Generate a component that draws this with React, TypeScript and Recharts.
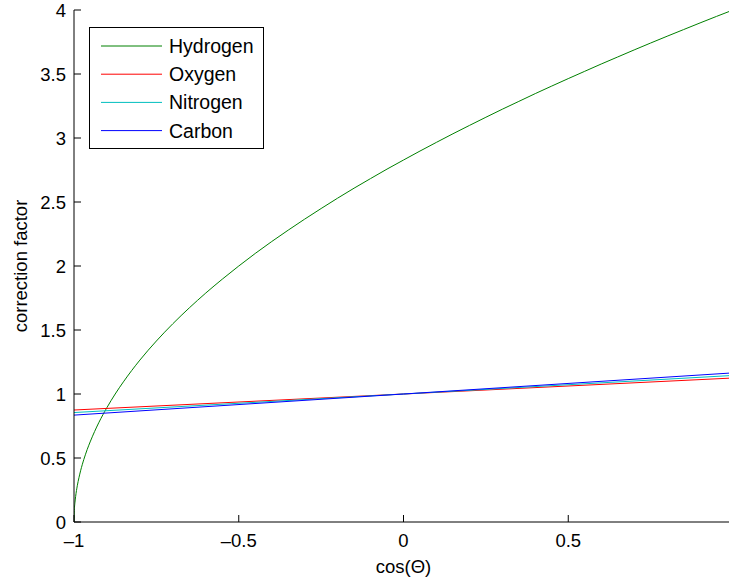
import React from 'react';
import { LineChart, Line, XAxis, YAxis, Legend } from 'recharts';

// hydrogen curve, sampled along cos(theta)
const hydrogenX = [
  -1, -0.999, -0.997, -0.995, -0.99, -0.985, -0.98, -0.97, -0.96, -0.95, -0.925, -0.9, -0.875, -0.85, -0.825, -0.8,
  -0.75, -0.7, -0.65, -0.6, -0.55, -0.5, -0.45, -0.4, -0.35, -0.3, -0.25, -0.2, -0.15, -0.1, -0.05, 0,
  0.05, 0.1, 0.15, 0.2, 0.25, 0.3, 0.35, 0.4, 0.45, 0.5, 0.55, 0.6, 0.65, 0.7, 0.75, 0.8, 0.85, 0.9, 0.95, 1,
];
const hydrogenY = [
  0, 0.089, 0.155, 0.2, 0.283, 0.346, 0.4, 0.49, 0.566, 0.632, 0.775, 0.894, 1.0, 1.095, 1.183, 1.265,
  1.414, 1.549, 1.673, 1.789, 1.897, 2.0, 2.098, 2.191, 2.28, 2.366, 2.449, 2.53, 2.608, 2.683, 2.757, 2.828,
  2.898, 2.966, 3.033, 3.098, 3.162, 3.225, 3.286, 3.347, 3.406, 3.464, 3.521, 3.578, 3.633, 3.688, 3.742, 3.795, 3.847, 3.899, 3.95, 4.0,
];

// the other three are straight lines
const lineX = [-1, 0, 1];
const oxygenY = [0.875, 1, 1.125];
const nitrogenY = [0.855, 1, 1.145];
const carbonY = [0.835, 1, 1.165];

const seriesNames = ['Hydrogen', 'Oxygen', 'Nitrogen', 'Carbon'];
const seriesColors = ['#008000', '#ff0000', '#00bfbf', '#0000ff'];

const xTicks = [-1, -0.5, 0, 0.5];
const yTicks = [0, 0.5, 1, 1.5, 2, 2.5, 3, 3.5, 4];

const toPoints = (xs: number[], ys: number[]) => xs.map((x, i) => ({ x, y: ys[i] }));

const seriesData = [
  toPoints(hydrogenX, hydrogenY),
  toPoints(lineX, oxygenY),
  toPoints(lineX, nitrogenY),
  toPoints(lineX, carbonY),
];

const FONT = '"Liberation Sans", Arial, Helvetica, sans-serif';
const TICK_FONT = 18.5;
const TICK_LEN = 7;

const fmt = (v: number) => String(v).replace('-', '\u2013');

const BottomTick = (props: any) => {
  const { x, y, payload } = props;
  return (
    <g>
      <line x1={x} y1={y} x2={x} y2={y - TICK_LEN} stroke="#000" />
      <text x={x} y={y + 25} textAnchor="middle" fontSize={TICK_FONT} fontFamily={FONT} fill="#000">
        {fmt(payload.value)}
      </text>
    </g>
  );
};

const TopTick = (props: any) => {
  const { x, y } = props;
  return <line x1={x} y1={y} x2={x} y2={y + TICK_LEN} stroke="#000" />;
};

const LeftTick = (props: any) => {
  const { x, y, payload } = props;
  return (
    <g>
      <line x1={x} y1={y} x2={x + TICK_LEN} y2={y} stroke="#000" />
      <text x={x - 8} y={y + 7} textAnchor="end" fontSize={TICK_FONT} fontFamily={FONT} fill="#000">
        {fmt(payload.value)}
      </text>
    </g>
  );
};

const YLabel = (props: any) => {
  const vb = props.viewBox || {};
  const cy = (vb.y || 0) + (vb.height || 0) / 2;
  return (
    <text
      x={20}
      y={cy}
      transform={`rotate(-90, 20, ${cy})`}
      textAnchor="middle"
      dominantBaseline="central"
      fontSize={TICK_FONT}
      fontFamily={FONT}
      fill="#000"
    >
      correction factor
    </text>
  );
};

const XLabel = (props: any) => {
  const vb = props.viewBox || {};
  const cx = (vb.x || 0) + (vb.width || 0) / 2;
  return (
    <text x={cx} y={(vb.y || 0) + 51} textAnchor="middle" fontSize={TICK_FONT} fontFamily={FONT} fill="#000">
      cos(Θ)
    </text>
  );
};

const LegendBox = () => (
  <svg width={178} height={125} style={{ display: 'block' }}>
    <rect x={0.5} y={0.5} width={174} height={121} fill="#fff" stroke="#000" />
    {seriesNames.map((name, i) => {
      const ry = 19 + i * 28.2;
      return (
        <g key={name}>
          <line x1={12} y1={ry} x2={73} y2={ry} stroke={seriesColors[i]} strokeWidth={1} />
          <text x={80} y={ry + 7} fontSize={19.5} fontFamily={FONT} fill="#000">
            {name}
          </text>
        </g>
      );
    })}
  </svg>
);

export default function App() {
  return (
    <div
      style={{
        position: 'fixed',
        left: 0,
        top: 0,
        width: 729,
        height: 578,
        overflow: 'hidden',
        background: '#fff',
        fontFamily: FONT,
      }}
    >
      <LineChart width={740} height={578} margin={{ top: 10, right: 7, bottom: 0, left: 0 }}>
        <XAxis
          type="number"
          dataKey="x"
          domain={[-1, 1]}
          ticks={xTicks}
          allowDataOverflow
          height={56}
          tickSize={0}
          tickMargin={0}
          tickLine={false}
          tick={<BottomTick />}
          axisLine={{ stroke: '#000' }}
          label={<XLabel />}
        />
        <XAxis
          xAxisId="top"
          orientation="top"
          type="number"
          dataKey="x"
          domain={[-1, 1]}
          ticks={xTicks}
          height={0}
          tickSize={0}
          tickMargin={0}
          tickLine={false}
          tick={<TopTick />}
          axisLine={{ stroke: '#000' }}
        />
        <YAxis
          type="number"
          domain={[0, 4]}
          ticks={yTicks}
          width={74}
          tickSize={0}
          tickMargin={0}
          tickLine={false}
          tick={<LeftTick />}
          axisLine={{ stroke: '#000' }}
          label={<YLabel />}
        />
        <Legend
          layout="vertical"
          align="center"
          verticalAlign="middle"
          content={<LegendBox />}
          wrapperStyle={{ left: 89, top: 27, width: 178, height: 125 }}
        />
        {seriesData.map((data, i) => (
          <Line
            key={seriesNames[i]}
            data={data}
            dataKey="y"
            name={seriesNames[i]}
            type={i === 0 ? 'monotoneX' : 'linear'}
            stroke={seriesColors[i]}
            strokeWidth={1}
            dot={false}
            activeDot={false}
            isAnimationActive={false}
          />
        ))}
      </LineChart>
    </div>
  );
}
